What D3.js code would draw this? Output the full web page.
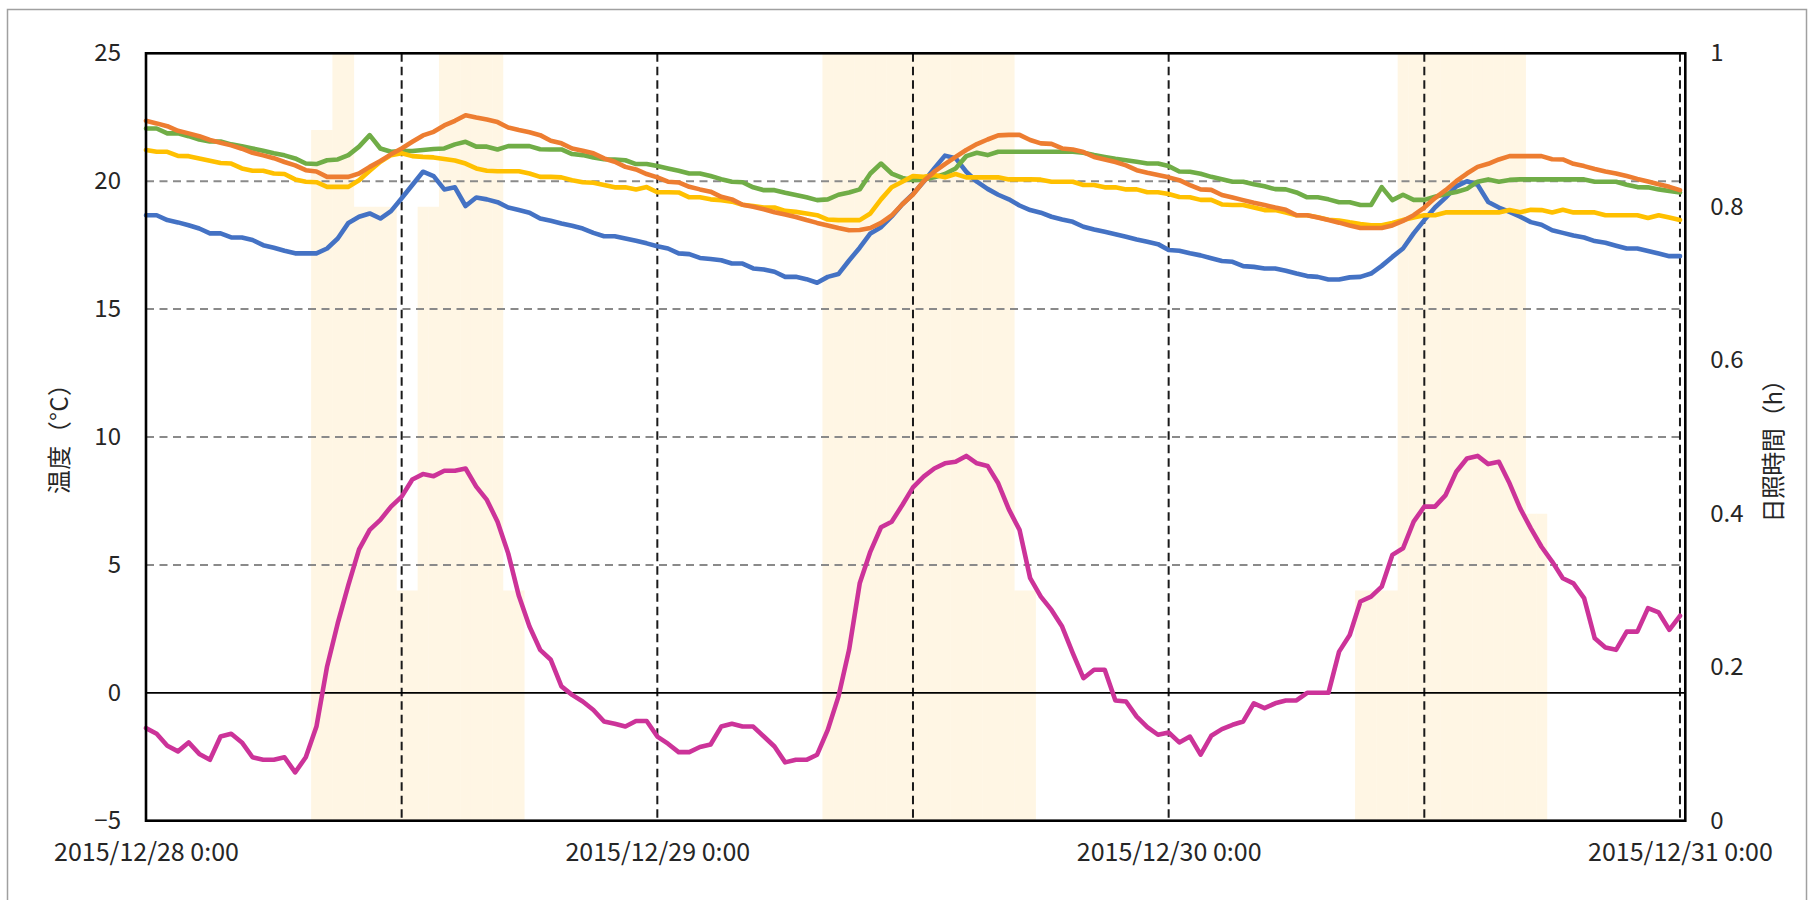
<!DOCTYPE html>
<html><head><meta charset="utf-8">
<script src="https://cdn.jsdelivr.net/npm/d3@7"></script>
<style>
html,body{margin:0;padding:0;background:#fff;}
svg{display:block;font-family:"Noto Sans CJK JP","Noto Sans",sans-serif;}
</style></head><body>
<svg id="chart" width="1808" height="900"></svg>
<script>
// ---------- data (half-hourly, 2015/12/28 0:00 .. 2015/12/31 0:00) ----------
const startTime = new Date(2015, 11, 28, 0, 0);
const stepMinutes = 30;

const seriesBlue = [
 18.67,18.67,18.48,18.39,18.28,18.15,17.96,17.96,17.80,17.80,17.70,17.50,17.40,17.28,17.18,17.18,
 17.18,17.37,17.76,18.37,18.61,18.74,18.54,18.83,19.33,19.85,20.37,20.20,19.68,19.76,19.03,19.36,
 19.29,19.18,18.97,18.87,18.77,18.54,18.45,18.35,18.26,18.15,17.98,17.85,17.85,17.76,17.67,17.57,
 17.46,17.37,17.18,17.15,17.00,16.96,16.91,16.78,16.78,16.59,16.55,16.46,16.26,16.26,16.17,16.03,
 16.26,16.37,16.90,17.40,17.96,18.20,18.62,19.10,19.50,19.98,20.50,21.00,20.90,20.37,19.98,19.70,
 19.47,19.29,19.05,18.87,18.77,18.61,18.50,18.41,18.22,18.11,18.02,17.93,17.83,17.72,17.63,17.54,
 17.31,17.28,17.18,17.10,16.99,16.88,16.85,16.68,16.65,16.59,16.59,16.50,16.39,16.29,16.26,16.16,
 16.16,16.24,16.26,16.39,16.69,17.04,17.37,17.96,18.48,18.97,19.36,19.80,20.00,19.86,19.19,18.97,
 18.80,18.61,18.40,18.30,18.08,17.98,17.88,17.80,17.66,17.59,17.48,17.37,17.37,17.27,17.17,17.07,
 17.07];

const seriesOrange = [
 22.36,22.26,22.15,21.97,21.87,21.76,21.61,21.50,21.40,21.27,21.11,21.01,20.90,20.75,20.62,20.43,
 20.38,20.17,20.17,20.17,20.30,20.56,20.79,21.05,21.28,21.54,21.79,21.93,22.18,22.36,22.58,22.49,
 22.41,22.31,22.10,22.00,21.91,21.80,21.58,21.48,21.28,21.19,21.09,20.89,20.76,20.56,20.46,20.28,
 20.15,19.98,19.95,19.78,19.68,19.59,19.39,19.29,19.08,19.00,18.90,18.79,18.70,18.60,18.48,18.37,
 18.27,18.17,18.08,18.09,18.17,18.37,18.66,19.10,19.48,20.00,20.37,20.67,20.95,21.22,21.45,21.63,
 21.79,21.81,21.81,21.61,21.48,21.46,21.28,21.24,21.14,20.95,20.85,20.75,20.62,20.43,20.33,20.24,
 20.15,20.04,19.85,19.68,19.66,19.46,19.36,19.26,19.16,19.07,18.97,18.88,18.67,18.67,18.58,18.48,
 18.38,18.27,18.17,18.17,18.17,18.27,18.45,18.67,18.97,19.34,19.65,20.00,20.30,20.56,20.68,20.85,
 20.98,20.98,20.98,20.98,20.86,20.85,20.68,20.59,20.48,20.38,20.30,20.20,20.09,19.99,19.88,19.78,
 19.65];

const seriesGreen = [
 22.06,22.06,21.87,21.87,21.76,21.63,21.55,21.55,21.44,21.37,21.28,21.19,21.09,21.01,20.89,20.69,
 20.67,20.82,20.85,21.02,21.35,21.80,21.28,21.15,21.18,21.18,21.22,21.26,21.28,21.44,21.54,21.35,
 21.35,21.24,21.37,21.37,21.37,21.25,21.24,21.24,21.06,21.02,20.93,20.86,20.85,20.82,20.67,20.67,
 20.59,20.50,20.41,20.30,20.30,20.20,20.08,19.98,19.96,19.76,19.65,19.65,19.55,19.46,19.37,19.26,
 19.29,19.47,19.56,19.68,20.30,20.69,20.30,20.13,20.04,20.07,20.15,20.28,20.50,20.98,21.11,21.02,
 21.15,21.15,21.15,21.15,21.15,21.15,21.15,21.15,21.11,21.02,20.95,20.88,20.82,20.76,20.69,20.69,
 20.59,20.38,20.37,20.29,20.17,20.08,19.98,19.98,19.88,19.80,19.69,19.68,19.56,19.37,19.37,19.29,
 19.18,19.18,19.07,19.07,19.77,19.26,19.47,19.27,19.27,19.39,19.50,19.58,19.70,19.98,20.07,19.98,
 20.05,20.07,20.07,20.07,20.07,20.07,20.07,20.07,19.98,19.98,19.98,19.86,19.77,19.76,19.68,19.62,
 19.56];

const seriesYellow = [
 21.22,21.15,21.15,20.99,20.98,20.89,20.80,20.71,20.69,20.50,20.41,20.41,20.30,20.28,20.07,19.98,
 19.96,19.78,19.78,19.78,20.04,20.41,20.76,21.02,21.09,20.98,20.95,20.93,20.87,20.81,20.69,20.50,
 20.41,20.39,20.39,20.39,20.30,20.17,20.17,20.15,20.04,19.96,19.94,19.85,19.76,19.76,19.68,19.77,
 19.57,19.57,19.56,19.37,19.37,19.29,19.26,19.20,19.08,19.03,18.97,18.97,18.84,18.80,18.74,18.67,
 18.50,18.48,18.48,18.48,18.74,19.29,19.76,19.98,20.20,20.17,20.24,20.15,20.28,20.15,20.15,20.15,
 20.15,20.07,20.07,20.07,20.06,19.98,19.98,19.98,19.85,19.85,19.76,19.76,19.68,19.68,19.57,19.57,
 19.50,19.38,19.37,19.27,19.27,19.09,19.07,19.07,18.97,18.87,18.87,18.78,18.67,18.67,18.59,18.49,
 18.46,18.39,18.33,18.28,18.28,18.37,18.48,18.58,18.67,18.67,18.78,18.78,18.78,18.78,18.78,18.78,
 18.87,18.79,18.88,18.87,18.78,18.88,18.78,18.78,18.78,18.67,18.67,18.67,18.67,18.56,18.67,18.58,
 18.48];

const seriesPink = [
 -1.38,-1.60,-2.07,-2.29,-1.94,-2.39,-2.62,-1.71,-1.60,-1.94,-2.52,-2.62,-2.62,-2.52,-3.11,-2.52,
 -1.32,1.03,2.72,4.22,5.61,6.37,6.76,7.28,7.67,8.34,8.55,8.47,8.68,8.68,8.77,8.06,
 7.54,6.69,5.45,3.79,2.59,1.68,1.29,0.25,-0.08,-0.34,-0.67,-1.12,-1.21,-1.32,-1.10,-1.10,
 -1.71,-1.99,-2.32,-2.32,-2.12,-2.02,-1.32,-1.21,-1.32,-1.32,-1.71,-2.10,-2.72,-2.62,-2.62,-2.42,
 -1.45,-0.15,1.68,4.28,5.52,6.47,6.69,7.34,8.03,8.45,8.77,8.97,9.03,9.26,8.97,8.87,
 8.19,7.17,6.37,4.48,3.76,3.24,2.59,1.55,0.57,0.90,0.90,-0.30,-0.34,-0.93,-1.34,-1.64,
 -1.55,-1.94,-1.71,-2.42,-1.68,-1.42,-1.25,-1.12,-0.41,-0.60,-0.41,-0.30,-0.30,0.00,0.00,0.00,
 1.61,2.26,3.57,3.76,4.15,5.39,5.65,6.69,7.28,7.28,7.73,8.64,9.16,9.26,8.94,9.03,
 8.19,7.21,6.43,5.71,5.13,4.48,4.28,3.70,2.13,1.77,1.68,2.39,2.39,3.31,3.14,2.46,
 3.01];

// sunshine duration (h), same half-hour slots
const sunshine = [
 0,0,0,0,0,0,0,0,0,0,0,0,0,0,0,0,
 0.9,0.9,1,1,0.8,0.8,0.8,0.8,0.3,0.3,0.8,0.8,1,1,1,1,
 1,1,0.3,0.3,0,0,0,0,0,0,0,0,0,0,0,0,
 0,0,0,0,0,0,0,0,0,0,0,0,0,0,0,0,
 1,1,1,1,1,1,1,1,1,1,1,1,1,1,1,1,
 1,1,0.3,0.3,0,0,0,0,0,0,0,0,0,0,0,0,
 0,0,0,0,0,0,0,0,0,0,0,0,0,0,0,0,
 0,0,0.3,0.3,0.3,0.3,1,1,1,1,1,1,1,1,1,1,
 1,1,0.4,0.4,0,0,0,0,0,0,0,0,0,0,0,0,
 0];

const xTickDates = [new Date(2015,11,28,0), new Date(2015,11,29,0), new Date(2015,11,30,0), new Date(2015,11,31,0)];
const xGridDates = [new Date(2015,11,28,12), new Date(2015,11,29,0), new Date(2015,11,29,12),
                    new Date(2015,11,30,0), new Date(2015,11,30,12), new Date(2015,11,31,0)];
const yLeftTicks = [-5, 0, 5, 10, 15, 20, 25];
const yLeftGrid = [5, 10, 15, 20];
const yRightTicks = [0, 0.2, 0.4, 0.6, 0.8, 1];
const leftTitle = "温度（°C）";
const rightTitle = "日照時間（h）";

const lineSeries = [
  {values: seriesBlue,   color: "#4472C4"},
  {values: seriesGreen,  color: "#70AD47"},
  {values: seriesYellow, color: "#FFC000"},
  {values: seriesOrange, color: "#ED7D31"},
  {values: seriesPink,   color: "#CC3399"}
];

// ---------- layout ----------
const L = 146, R = 1685.3, T = 53.3, B = 820.7;
const svg = d3.select("#chart");
svg.append("rect").attr("width",1808).attr("height",900).attr("fill","#fff");
svg.append("rect").attr("x",7.5).attr("y",9.5).attr("width",1799).attr("height",1000)
   .attr("fill","none").attr("stroke","#a0a0a0").attr("stroke-width",1.5);

const times = sunshine.map((_, i) => d3.timeMinute.offset(startTime, i * stepMinutes));
const half = stepMinutes / 2;
const x = d3.scaleTime().domain([startTime, d3.timeMinute.offset(times[times.length-1], half)]).range([L, R]);
const yL = d3.scaleLinear().domain([-5, 25]).range([B, T]);
const yR = d3.scaleLinear().domain([0, 1]).range([B, T]);

// sunshine bars
svg.append("g").selectAll("rect")
  .data(times.map((t, i) => ({t, v: sunshine[i]})).filter(d => d.v > 0))
  .join("rect")
  .attr("x", d => x(d3.timeMinute.offset(d.t, -half)))
  .attr("width", d => x(d3.timeMinute.offset(d.t, half)) - x(d3.timeMinute.offset(d.t, -half)) + 0.4)
  .attr("y", d => yR(d.v))
  .attr("height", d => B - yR(d.v))
  .attr("fill", "#FFF6E4");

// horizontal dashed gridlines
svg.append("g").selectAll("line").data(yLeftGrid).join("line")
  .attr("x1", L).attr("x2", R).attr("y1", d => yL(d)).attr("y2", d => yL(d))
  .attr("stroke", "#8a8a8a").attr("stroke-width", 2).attr("stroke-dasharray", "8,5.5");

// vertical dashed gridlines
svg.append("g").selectAll("line").data(xGridDates).join("line")
  .attr("x1", d => x(d)).attr("x2", d => x(d)).attr("y1", T).attr("y2", B)
  .attr("stroke", "#1a1a1a").attr("stroke-width", 2).attr("stroke-dasharray", "8.5,5");

// zero line
svg.append("line").attr("x1", L).attr("x2", R).attr("y1", yL(0)).attr("y2", yL(0))
  .attr("stroke", "#000").attr("stroke-width", 1.8);

// temperature lines
const lineGen = d3.line().x((d, i) => x(times[i])).y(d => yL(d));
svg.append("g").selectAll("path").data(lineSeries).join("path")
  .attr("d", d => lineGen(d.values))
  .attr("fill", "none").attr("stroke", d => d.color)
  .attr("stroke-width", 4.6).attr("stroke-linejoin", "round").attr("stroke-linecap", "round");

// plot frame
svg.append("rect").attr("x", L).attr("y", T).attr("width", R - L).attr("height", B - T)
  .attr("fill", "none").attr("stroke", "#000").attr("stroke-width", 2.6);

// axes
const txtColor = "#262626";
const gL = svg.append("g").attr("transform", `translate(${L},0)`)
  .call(d3.axisLeft(yL).tickValues(yLeftTicks).tickSize(0).tickPadding(25).tickFormat(d3.format("~g")));
const gR = svg.append("g").attr("transform", `translate(${R},0)`)
  .call(d3.axisRight(yR).tickValues(yRightTicks).tickSize(0).tickPadding(25).tickFormat(d3.format("~g")));
const gB = svg.append("g").attr("transform", `translate(0,${B})`)
  .call(d3.axisBottom(x).tickValues(xTickDates).tickSize(0).tickFormat(d3.timeFormat("%Y/%m/%d %-H:%M")));
[gL, gR, gB].forEach(g => {
  g.select(".domain").remove();
  g.selectAll("text").attr("font-size", 24).attr("fill", txtColor)
   .attr("font-family", '"Noto Sans CJK JP","Noto Sans",sans-serif');
});
gB.selectAll("text").attr("font-size", 25).attr("y", 32).attr("dy", "0.35em");

// axis titles
svg.append("text").attr("transform", "translate(57,433) rotate(-90)")
  .attr("text-anchor", "middle").attr("dominant-baseline", "central")
  .attr("font-size", 24).attr("fill", txtColor)
  .attr("textLength", 122).attr("lengthAdjust", "spacing").text(leftTitle);
svg.append("text").attr("transform", "translate(1771,445) rotate(-90)")
  .attr("text-anchor", "middle").attr("dominant-baseline", "central")
  .attr("font-size", 24).attr("fill", txtColor)
  .attr("textLength", 155).attr("lengthAdjust", "spacing").text(rightTitle);
</script>
</body></html>
